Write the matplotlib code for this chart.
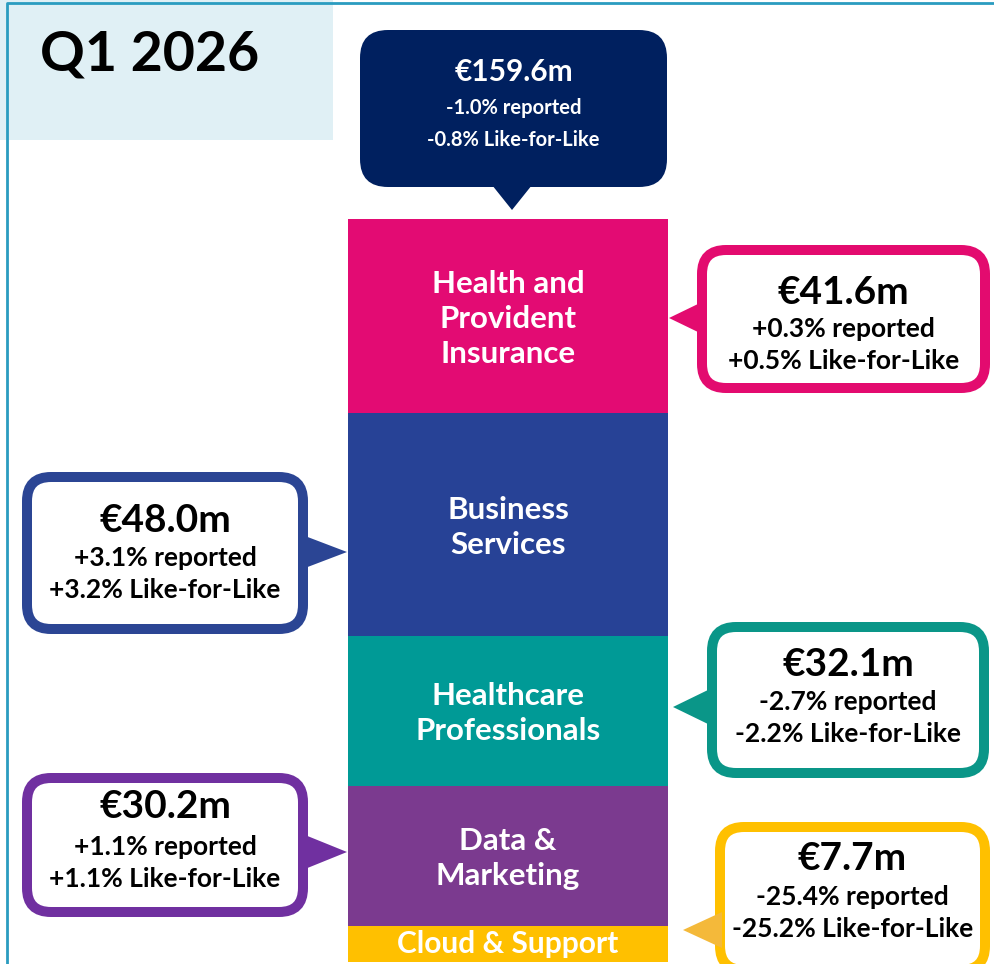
import matplotlib
matplotlib.use("Agg")
import matplotlib.pyplot as plt
from matplotlib.patches import FancyBboxPatch, Polygon, Rectangle

plt.rcParams['font.family'] = ['Lato', 'DejaVu Sans']

# segment data, bottom to top
segments = ['Cloud & Support', 'Data &\nMarketing', 'Healthcare\nProfessionals',
            'Business\nServices', 'Health and\nProvident\nInsurance']
revenue = [7.7, 30.2, 32.1, 48.0, 41.6]
reported = ['-25.4%', '+1.1%', '-2.7%', '+3.1%', '+0.3%']
lfl = ['-25.2%', '+1.1%', '-2.2%', '+3.2%', '+0.5%']
colors = ['#FFC000', '#7B3A8F', '#009A96', '#274296', '#E30B73']
edge_cols = ['#FFC000', '#7030A0', '#0A9688', '#2B4594', '#E30B6F']
total = 159.6
total_reported = '-1.0%'
total_lfl = '-0.8%'
title = 'Q1 2026'

W, H = 994, 964
fig = plt.figure(figsize=(W / 100, H / 100), dpi=100)

# background layer in pixel coords
bg = fig.add_axes([0, 0, 1, 1])
bg.set_xlim(0, W)
bg.set_ylim(H, 0)
bg.axis('off')
bg.add_patch(Rectangle((0, 0), 333, 140, color='#E0F0F5', lw=0))
bg.plot([7, 7, W], [H, 3, 3], color='#2A9CC0', lw=2, solid_capstyle='butt')
bg.text(40, 54, title, fontsize=40, fontweight='bold', color='black',
        ha='left', va='center')

# the stacked bar in data units
scale = (962 - 219) / total
ax = fig.add_axes([0, 0, 1, 1])
ax.set_xlim(0, W)
ax.set_ylim(-(H - 962) / scale, 962 / scale)
ax.axis('off')
ax.patch.set_alpha(0)
bottom = 0
for lab, v, c in zip(segments, revenue, colors):
    ax.bar(508, v, width=320, bottom=bottom, color=c, lw=0)
    fs = 21.5 if lab == 'Cloud & Support' else 22.5
    # nudge multi-line labels down a touch, like the original
    nudge = 0 if lab == 'Cloud & Support' else 3 / scale
    ax.text(508, bottom + v / 2 - nudge, lab, ha='center', va='center', color='white',
            fontsize=fs, fontweight='bold', linespacing=1.3)
    bottom += v

# callouts overlay in pixel coords
ov = fig.add_axes([0, 0, 1, 1])
ov.set_xlim(0, W)
ov.set_ylim(H, 0)
ov.axis('off')
ov.patch.set_alpha(0)


def callout(x0, y0, x1, y1, col, tri, tri_col=None, filled=False):
    bw = 10
    if filled:
        box = FancyBboxPatch((x0, y0), x1 - x0, y1 - y0,
                             boxstyle='round,pad=0,rounding_size=28',
                             fc=col, ec=col, lw=0)
    else:
        box = FancyBboxPatch((x0 + bw / 2, y0 + bw / 2), x1 - x0 - bw, y1 - y0 - bw,
                             boxstyle='round,pad=0,rounding_size=24',
                             fc='white', ec=col, lw=bw * 0.72)
    ov.add_patch(box)
    ov.add_patch(Polygon(tri, closed=True, fc=tri_col or col, ec='none'))
    return (x0 + x1) / 2, ('white' if filled else 'black')


# total
cx, tc = callout(360, 30, 667, 187, '#00205F',
                 [(492, 185), (532, 185), (512, 210)], filled=True)
ov.text(cx, 72, f'€{total}m', ha='center', va='center', color=tc,
        fontsize=21.5, fontweight='bold')
ov.text(cx, 108, f'{total_reported} reported', ha='center', va='center', color=tc,
        fontsize=14.5, fontweight='bold')
ov.text(cx, 140, f'{total_lfl} Like-for-Like', ha='center', va='center', color=tc,
        fontsize=14.5, fontweight='bold')

# segment callouts: (x0, y0, x1, y1, triangle, text ys, triangle colour)
boxes = [
    (715, 822, 990, 975, [(683, 930), (722, 912), (722, 948)], (859, 897, 929), '#F4B93A'),
    (22, 773, 308, 917, [(347, 852), (305, 835), (305, 869)], (807, 847, 879), None),
    (707, 622, 989, 778, [(673, 707), (710, 689), (710, 725)], (664, 702, 734), None),
    (22, 472, 308, 634, [(347, 552), (305, 536), (305, 568)], (521, 558, 590), None),
    (697, 245, 990, 393, [(669, 318), (700, 303), (700, 333)], (292, 329, 361), None),
]
for i, (x0, y0, x1, y1, tri, ys, tcol) in enumerate(boxes):
    cx, tc = callout(x0, y0, x1, y1, edge_cols[i], tri, tri_col=tcol)
    ov.text(cx, ys[0], f'€{revenue[i]:.1f}m', ha='center', va='center', color=tc,
            fontsize=28, fontweight='bold')
    ov.text(cx, ys[1], f'{reported[i]} reported', ha='center', va='center', color=tc,
            fontsize=19, fontweight='bold')
    ov.text(cx, ys[2], f'{lfl[i]} Like-for-Like', ha='center', va='center', color=tc,
            fontsize=19, fontweight='bold')

fig.savefig('out.png', dpi=100)
